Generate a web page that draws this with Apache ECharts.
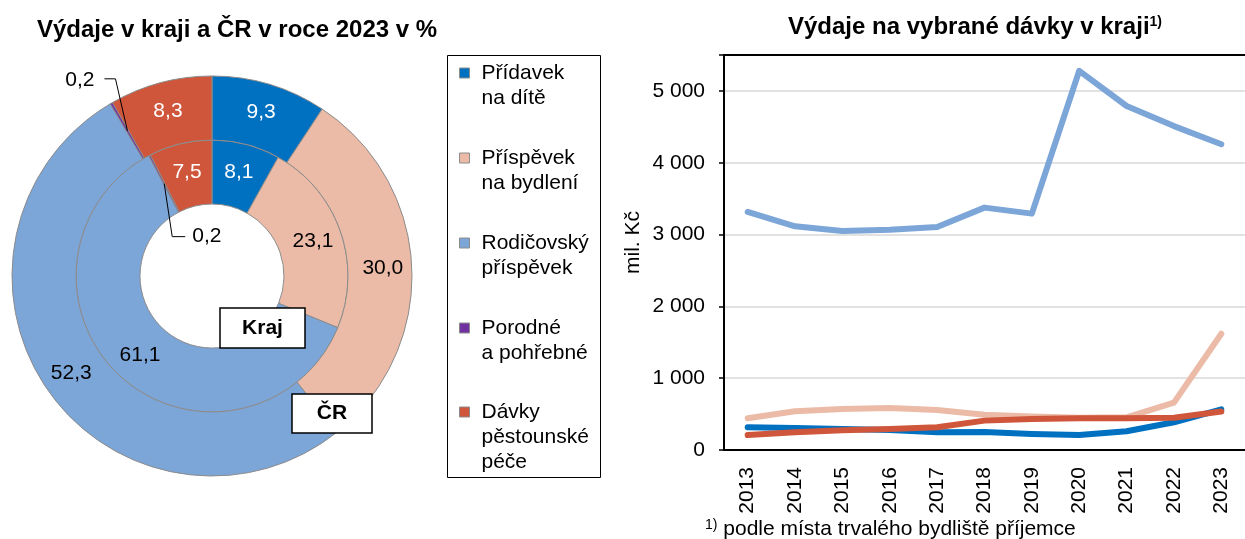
<!DOCTYPE html>
<html>
<head>
<meta charset="utf-8">
<script src="https://cdn.jsdelivr.net/npm/echarts@6/dist/echarts.min.js"></script>
<style>
  html, body { margin: 0; padding: 0; background: #fff; }
  #chart { width: 1245px; height: 539px; }
</style>
</head>
<body>
<div id="chart"></div>
<script>
// Benefit types (shared by the donut, the legend and the line chart)
const benefitNames = [
  'Přídavek na dítě',
  'Příspěvek na bydlení',
  'Rodičovský příspěvek',
  'Porodné a pohřebné',
  'Dávky pěstounské péče'
];
const benefitLabels = [
  'Přídavek\nna dítě',
  'Příspěvek\nna bydlení',
  'Rodičovský\npříspěvek',
  'Porodné\na pohřebné',
  'Dávky\npěstounské\npéče'
];

// Shares of expenditure in 2023, %
const krajShare = [8.1, 23.1, 61.1, 0.2, 7.5];
const crShare = [9.3, 30.0, 52.3, 0.2, 8.3];

// Expenditure in the region, mil. Kč
const years = ['2013', '2014', '2015', '2016', '2017', '2018', '2019', '2020', '2021', '2022', '2023'];
const pridavekNaDite = [316, 307, 293, 279, 246, 250, 223, 209, 262, 386, 565];
const prispevekNaBydleni = [441, 539, 572, 586, 558, 490, 465, 450, 455, 660, 1619];
const rodicovskyPrispevek = [3314, 3114, 3049, 3068, 3105, 3375, 3291, 5280, 4790, 4510, 4258];
const davkyPestounske = [209, 246, 274, 293, 316, 409, 432, 441, 441, 450, 535];

// Value axis
const yMax = 5500;
const yStep = 1000;

const FONT = '"Liberation Sans", Arial, Helvetica, sans-serif';
const benefitColors = ['#0070C0', '#EBBBA7', '#7CA5D8', '#7030A0', '#CF563B'];
const lightText = [true, false, false, false, true];
const SLICE_BORDER = '#8c8c8c';

const PIE_CENTER = [212, 276];
const INNER_RADIUS = [72, 136];
const OUTER_RADIUS = [136, 200];

function fmtShare(v) { return v.toFixed(1).replace('.', ','); }
function fmtThousands(v) { return String(v).replace(/\B(?=(\d{3})+(?!\d))/g, ' '); }

// Angular middle of a slice as a fraction of the full turn (clockwise from 12 o'clock)
function midFraction(values, idx) {
  const total = values.reduce((a, b) => a + b, 0);
  let acc = 0;
  for (let i = 0; i < idx; i++) acc += values[i];
  return (acc + values[idx] / 2) / total;
}
function polar(r, frac) {
  const a = 2 * Math.PI * frac;
  return [PIE_CENTER[0] + r * Math.sin(a), PIE_CENTER[1] - r * Math.cos(a)];
}

function pieData(values) {
  return benefitNames.map((name, i) => ({
    name: name,
    value: values[i],
    itemStyle: { color: benefitColors[i] },
    label: { show: i !== 3, color: lightText[i] ? '#fff' : '#000' }
  }));
}

function pieSeries(name, values, radius) {
  return {
    type: 'pie',
    name: name,
    center: PIE_CENTER,
    radius: radius,
    startAngle: 90,
    clockwise: true,
    silent: true,
    avoidLabelOverlap: false,
    itemStyle: { borderColor: SLICE_BORDER, borderWidth: 1 },
    label: {
      position: 'inside',
      fontFamily: FONT,
      fontSize: 21,
      formatter: p => fmtShare(p.value)
    },
    labelLine: { show: false },
    emphasis: { disabled: true },
    data: pieData(values)
  };
}

function lineSeries(idx, values) {
  return {
    type: 'line',
    name: benefitNames[idx],
    data: values,
    symbol: 'none',
    silent: true,
    lineStyle: { width: 6, color: benefitColors[idx], cap: 'round', join: 'round' },
    itemStyle: { color: benefitColors[idx] },
    emphasis: { disabled: true }
  };
}

function legendItem(idx) {
  return {
    name: benefitNames[idx],
    icon: 'rect',
    itemStyle: { color: benefitColors[idx], borderColor: SLICE_BORDER, borderWidth: 1 }
  };
}

// Legend text is centred on its marker, so leading blank lines put the
// first line of each label level with the marker.
function legendText(name) {
  const label = benefitLabels[benefitNames.indexOf(name)];
  const lines = label.split('\n').length;
  return '\n'.repeat(lines - 1) + label;
}

function legendBlock(indices, top) {
  return {
    orient: 'vertical',
    left: 459,
    top: top,
    padding: 0,
    itemWidth: 10,
    itemHeight: 10,
    itemGap: 10,
    icon: 'rect',
    selectedMode: false,
    data: indices.map(legendItem),
    formatter: legendText,
    textStyle: { fontFamily: FONT, fontSize: 21, lineHeight: 25, color: '#000', padding: [0, 0, 0, 7] }
  };
}

// Leader lines for the two thin "Porodné a pohřebné" slices
const fOut = midFraction(crShare, 3);
const fIn = midFraction(krajShare, 3);
const outStart = polar((OUTER_RADIUS[0] + OUTER_RADIUS[1]) / 2, fOut);
const outElbow = [outStart[0] - 12, outStart[1] - 52];
const outEnd = [outElbow[0] - 11, outElbow[1]];
const inStart = polar((INNER_RADIUS[0] + INNER_RADIUS[1]) / 2, fIn);
const inElbow = [inStart[0] + 8, inStart[1] + 53];
const inEnd = [inElbow[0] + 13, inElbow[1]];

function boxLabel(text, x, y, w, h) {
  return [
    { type: 'rect', z: 100, shape: { x: x, y: y, width: w, height: h }, style: { fill: '#fff', stroke: '#000', lineWidth: 1.5 } },
    { type: 'text', z: 101, x: x + w / 2, y: y + h / 2, style: { text: text, fontFamily: FONT, fontSize: 21, fontWeight: 'bold', fill: '#000', align: 'center', verticalAlign: 'middle' } }
  ];
}

const chart = echarts.init(document.getElementById('chart'), null, { renderer: 'canvas' });

chart.setOption({
  animation: false,
  backgroundColor: '#fff',
  textStyle: { fontFamily: FONT },
  grid: { left: 724, top: 55, right: -7, bottom: 89, containLabel: false },
  xAxis: [
    {
      type: 'category',
      data: years,
      boundaryGap: true,
      axisLine: { lineStyle: { color: '#000', width: 2 } },
      axisTick: { length: 6, lineStyle: { color: '#000', width: 1.5 } },
      axisLabel: { rotate: 90, margin: 17, fontSize: 21, color: '#000', fontFamily: FONT }
    },
    {
      type: 'category',
      data: years,
      position: 'top',
      axisLine: { lineStyle: { color: '#000', width: 2 } },
      axisTick: { show: false },
      axisLabel: { show: false }
    }
  ],
  yAxis: {
    type: 'value',
    min: 0,
    max: yMax,
    interval: yStep,
    name: 'mil. Kč',
    nameLocation: 'middle',
    nameGap: 80,
    nameTextStyle: { fontSize: 21, color: '#000', fontFamily: FONT, padding: [0, 0, 0, 20] },
    axisLine: { show: true, lineStyle: { color: '#000', width: 2 } },
    axisTick: { show: true, length: 5, lineStyle: { color: '#000', width: 1.5 } },
    splitLine: { show: true, showMaxLine: false, lineStyle: { color: '#d9d9d9', width: 1.5 } },
    axisLabel: {
      margin: 19,
      fontSize: 21,
      color: '#000',
      fontFamily: FONT,
      formatter: v => (v % yStep === 0 ? fmtThousands(v) : '')
    }
  },
  legend: [
    legendBlock([0, 1, 2, 3], 35.5),
    legendBlock([4], 349.5)
  ],
  series: [
    pieSeries('Kraj', krajShare, INNER_RADIUS),
    pieSeries('ČR', crShare, OUTER_RADIUS),
    lineSeries(2, rodicovskyPrispevek),
    lineSeries(1, prispevekNaBydleni),
    lineSeries(0, pridavekNaDite),
    lineSeries(4, davkyPestounske)
  ],
  graphic: [
    {
      type: 'text', x: 237, y: 30, z: 100,
      style: { text: 'Výdaje v kraji a ČR v roce 2023 v %', fontFamily: FONT, fontSize: 24, fontWeight: 'bold', fill: '#000', align: 'center', verticalAlign: 'middle' }
    },
    {
      type: 'text', x: 975, y: 27, z: 100,
      style: {
        text: 'Výdaje na vybrané dávky v kraji{sup|1)}',
        fontFamily: FONT, fontSize: 24, fontWeight: 'bold', fill: '#000', align: 'center', verticalAlign: 'middle',
        rich: { sup: { fontFamily: FONT, fontSize: 14, fontWeight: 'bold', fill: '#000', verticalAlign: 'top', padding: [0, 0, 8, 0] } }
      }
    },
    {
      type: 'text', x: 705, y: 529, z: 100,
      style: {
        text: '{sup|1)} podle místa trvalého bydliště příjemce',
        fontFamily: FONT, fontSize: 21, fill: '#000', align: 'left', verticalAlign: 'middle',
        rich: { sup: { fontFamily: FONT, fontSize: 14, fill: '#000', verticalAlign: 'top', padding: [0, 0, 8, 0] } }
      }
    },
    { type: 'rect', z: 90, shape: { x: 447.5, y: 55.5, width: 153, height: 422 }, style: { fill: null, stroke: '#000', lineWidth: 1 } },
    { type: 'polyline', z: 100, shape: { points: [outStart, outElbow, outEnd] }, style: { stroke: '#000', lineWidth: 1, fill: null } },
    {
      type: 'text', x: outEnd[0] - 10, y: outEnd[1] + 1, z: 100,
      style: { text: fmtShare(crShare[3]), fontFamily: FONT, fontSize: 21, fill: '#000', align: 'right', verticalAlign: 'middle' }
    },
    { type: 'polyline', z: 100, shape: { points: [inStart, inElbow, inEnd] }, style: { stroke: '#000', lineWidth: 1, fill: null } },
    {
      type: 'text', x: inEnd[0] + 7, y: inEnd[1], z: 100,
      style: { text: fmtShare(krajShare[3]), fontFamily: FONT, fontSize: 21, fill: '#000', align: 'left', verticalAlign: 'middle' }
    }
  ].concat(boxLabel('Kraj', 220, 308, 85, 40), boxLabel('ČR', 292, 394, 80, 39))
});
</script>
</body>
</html>
